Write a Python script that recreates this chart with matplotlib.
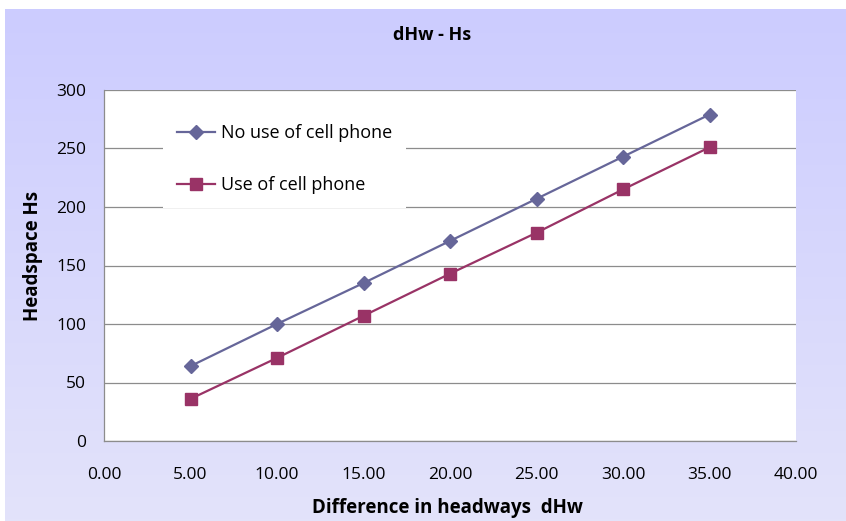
import numpy as np
import matplotlib.pyplot as plt
from matplotlib.colors import LinearSegmentedColormap

# Chart data
dhw = [5, 10, 15, 20, 25, 30, 35]
no_phone = [64, 100, 135, 171, 207, 243, 279]
with_phone = [36, 71, 107, 143, 178, 215, 251]

x_ticks = [0, 5, 10, 15, 20, 25, 30, 35, 40]
y_ticks = [0, 50, 100, 150, 200, 250, 300]

plt.rcParams['font.family'] = ['Open Sans', 'DejaVu Sans']

fig = plt.figure(figsize=(8.46, 5.21), dpi=100)
fig.patch.set_facecolor('white')

# gradient background behind the plot area
bg = fig.add_axes([5 / 846, 0, 1 - 5 / 846, 1 - 9 / 521])
cmap = LinearSegmentedColormap.from_list('bg', ['#CCCCFF', '#E3E3FA'])
bg.imshow(np.linspace(0, 1, 256).reshape(-1, 1), aspect='auto', cmap=cmap,
          extent=[0, 1, 0, 1])
bg.set_axis_off()

ax = fig.add_axes([104 / 846, 1 - 441 / 521, 692 / 846, 351 / 521])
ax.set_facecolor('white')

ax.plot(dhw, no_phone, color='#666699', marker='D', markersize=7.5,
        linewidth=1.6, label='No use of cell phone', zorder=3)
ax.plot(dhw, with_phone, color='#993366', marker='s', markersize=8.5,
        linewidth=1.6, label='Use of cell phone', zorder=3)

ax.set_xlim(0, 40)
ax.set_ylim(0, 300)
ax.set_xticks(x_ticks)
ax.set_xticklabels([f"{v:.2f}" for v in x_ticks])
ax.set_yticks(y_ticks)
ax.tick_params(length=0, labelsize=12.5, colors='black')
ax.tick_params(axis='y', pad=13)
ax.tick_params(axis='x', pad=19)
ax.grid(axis='y', color='#8C8C8C', linewidth=0.9)
ax.set_axisbelow(True)
for side in ['top', 'right']:
    ax.spines[side].set_visible(False)
for side in ['left', 'bottom']:
    ax.spines[side].set_color('#8C8C8C')
    ax.spines[side].set_linewidth(0.9)

fig.text(432 / 846, 1 - 35 / 521, 'dHw - Hs', fontsize=13,
         fontweight='bold', ha='center', va='center')
ax.set_xlabel('Difference in headways  dHw', fontsize=13.5, fontweight='bold')
ax.xaxis.set_label_coords(0.497, -0.191)
ax.xaxis.label.set_va('center')
ax.set_ylabel('Headspace Hs', fontsize=13.5, fontweight='bold')
ax.yaxis.set_label_coords(-0.1026, 0.527)
ax.yaxis.label.set_va('center')

leg = ax.legend(loc='upper left', bbox_to_anchor=(0.0853, 0.943),
                fontsize=13, frameon=True, fancybox=False, framealpha=1,
                edgecolor='white', handlelength=2.1, labelspacing=1.85,
                borderpad=0.8, handletextpad=0.3, borderaxespad=0)
leg.get_frame().set_linewidth(0)

fig.savefig('out.png', dpi=100)
